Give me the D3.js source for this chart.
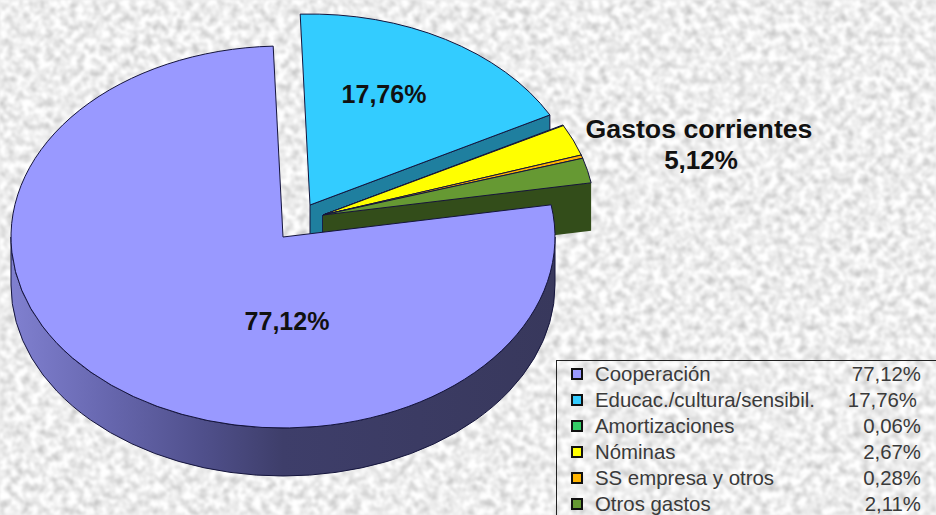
<!DOCTYPE html>
<html>
<head>
<meta charset="utf-8">
<script src="https://cdn.jsdelivr.net/npm/d3@7"></script>
<style>
html, body { margin: 0; padding: 0; background: #eeeeee; overflow: hidden; }
text { font-family: "Liberation Sans", Arial, sans-serif; }
</style>
</head>
<body>
<div id="canvas"></div>
<script>
"use strict"

let categories = ["Cooperación", "Educac./cultura/sensibil.", "Amortizaciones", "Nóminas", "SS empresa y otros", "Otros gastos"];
let values = [77.12, 17.76, 0.06, 2.67, 0.28, 2.11];
let valueLabels = ["77,12%", "17,76%", "0,06%", "2,67%", "0,28%", "2,11%"];
let topColors = ["#9999ff", "#33ccff", "#33cc66", "#ffff00", "#ffb400", "#669933"];
let wallColors = ["#4d4d80", "#1f7f9f", "#1f7a3d", "#999900", "#8a6200", "#334d1a"];

/* Configuration variables: drawing */
let svgWidth = 936;
let svgHeight = 515;
let rx = 272;
let ry = 191;
let depth = 48;
let startDeg = 80.3;

/* centre of each slice: the last ones are pulled out together */
let centres = [[283, 237], [310, 205], [323, 215], [323, 215], [323, 215], [323, 215]];

let svg = d3.select("#canvas")
    .append("svg")
    .attr("width", svgWidth)
    .attr("height", svgHeight)
    .style("display", "block");

let defs = svg.append("defs");

/* Granite like background */
let filter = defs.append("filter")
    .attr("id", "stone")
    .attr("color-interpolation-filters", "sRGB")
    .attr("x", 0).attr("y", 0).attr("width", "100%").attr("height", "100%");
filter.append("feTurbulence")
    .attr("type", "fractalNoise")
    .attr("baseFrequency", 0.13)
    .attr("numOctaves", 2)
    .attr("seed", 7);
filter.append("feColorMatrix")
    .attr("type", "matrix")
    .attr("values", "0.42 0 0 0 0.72  0.42 0 0 0 0.72  0.42 0 0 0 0.72  0 0 0 0 1");
filter.append("feGaussianBlur")
    .attr("stdDeviation", 0.8);

svg.append("rect")
    .attr("width", svgWidth)
    .attr("height", svgHeight)
    .attr("filter", "url(#stone)");

/* Shading of the big slice rim */
let rimGradient = defs.append("linearGradient")
    .attr("id", "rim")
    .attr("gradientUnits", "userSpaceOnUse")
    .attr("x1", 11).attr("x2", 555).attr("y1", 0).attr("y2", 0);
[[0, "#8080d0"], [0.17, "#6868b0"], [0.35, "#50508c"], [0.5, "#3e3e6a"], [1, "#38385c"]].forEach(function (s) {
    rimGradient.append("stop").attr("offset", s[0]).attr("stop-color", s[1]);
});

/* Angles come from d3.pie, clockwise from 12 o'clock */
let pie = d3.pie()
    .sort(null)
    .startAngle(startDeg * Math.PI / 180)
    .endAngle(startDeg * Math.PI / 180 + 2 * Math.PI);
let slices = pie(values);

let unitX = d3.scaleLinear().domain([-1, 1]).range([-rx, rx]);
let unitY = d3.scaleLinear().domain([-1, 1]).range([ry, -ry]);

function point(i, angle, drop) {
    return [
        centres[i][0] + unitX(Math.sin(angle)),
        centres[i][1] + unitY(Math.cos(angle)) + (drop || 0)
    ];
}

function ellipseTo(p, a0, a1) {
    let large = Math.abs(a1 - a0) > Math.PI ? 1 : 0;
    let sweep = a1 > a0 ? 1 : 0;
    return "A" + rx + "," + ry + " 0 " + large + " " + sweep + " " + p[0] + "," + p[1];
}

function topPath(i, d) {
    let c = centres[i];
    let p0 = point(i, d.startAngle);
    let p1 = point(i, d.endAngle);
    return "M" + c[0] + "," + c[1] + "L" + p0[0] + "," + p0[1]
        + ellipseTo(p1, d.startAngle, d.endAngle) + "Z";
}

/* side wall along the end radius of a slice */
function endWallPath(i, d) {
    let c = centres[i];
    let p = point(i, d.endAngle);
    return "M" + c[0] + "," + c[1] + "L" + p[0] + "," + p[1]
        + "L" + p[0] + "," + (p[1] + depth) + "L" + c[0] + "," + (c[1] + depth) + "Z";
}

/* outer rim, only the front half of the ellipse shows */
function rimPath(i, d) {
    let a0 = Math.max(d.startAngle, Math.PI / 2);
    let a1 = Math.min(d.endAngle, 3 * Math.PI / 2);
    let p0 = point(i, a0);
    let p1 = point(i, a1);
    let p2 = point(i, a1, depth);
    let p3 = point(i, a0, depth);
    return "M" + p0[0] + "," + p0[1] + ellipseTo(p1, a0, a1)
        + "L" + p2[0] + "," + p2[1] + ellipseTo(p3, a1, a0) + "Z";
}

let edge = "#14143c";

/* Back to front: blue slice, small group, then the big one */
let order = [1, 2, 3, 4, 5, 0];
order.forEach(function (i) {
    let d = slices[i];
    if (i === 0) {
        svg.append("path")
            .attr("d", rimPath(i, d))
            .attr("fill", "url(#rim)")
            .attr("stroke", edge)
            .attr("stroke-width", 1);
    } else {
        svg.append("path")
            .attr("d", endWallPath(i, d))
            .attr("fill", wallColors[i])
            .attr("stroke", i === 5 ? "none" : edge)
            .attr("stroke-width", 1);
    }
    svg.append("path")
        .attr("d", topPath(i, d))
        .attr("fill", topColors[i])
        .attr("stroke", edge)
        .attr("stroke-width", 1)
        .attr("stroke-linejoin", "round");
});

/* Slice labels */
let pieLabels = [
    {text: valueLabels[0], x: 287, y: 330, size: 25},
    {text: valueLabels[1], x: 384, y: 103, size: 25},
    {text: "Gastos corrientes", x: 699, y: 138, size: 26.7},
    {text: "5,12%", x: 701, y: 169, size: 26}
];
svg.selectAll(".pie-label")
    .data(pieLabels)
    .join("text")
    .attr("class", "pie-label")
    .attr("x", function (d) { return d.x; })
    .attr("y", function (d) { return d.y; })
    .attr("text-anchor", "middle")
    .attr("font-size", function (d) { return d.size; })
    .attr("font-weight", "bold")
    .attr("fill", "#111111")
    .text(function (d) { return d.text; });

/* Legend, its box runs off the picture */
svg.append("rect")
    .attr("x", 556.5)
    .attr("y", 360.5)
    .attr("width", 400)
    .attr("height", 200)
    .attr("fill", "none")
    .attr("stroke", "#222222")
    .attr("stroke-width", 1);

let rowY = d3.scalePoint()
    .domain(categories)
    .range([374, 504]);

let rows = svg.selectAll(".legend-row")
    .data(categories)
    .join("g")
    .attr("class", "legend-row")
    .attr("transform", function (d) { return "translate(0," + rowY(d) + ")"; });

rows.append("rect")
    .attr("x", 572)
    .attr("y", -5)
    .attr("width", 10)
    .attr("height", 10)
    .attr("fill", function (d, i) { return topColors[i]; })
    .attr("stroke", "#111111")
    .attr("stroke-width", 2);

rows.append("text")
    .attr("x", 595)
    .attr("y", 7)
    .attr("font-size", 20.4)
    .attr("fill", "#3a3a3a")
    .text(function (d) { return d; });

rows.append("text")
    .attr("x", function (d, i) { return i === 1 ? 917 : 921; })
    .attr("y", 7)
    .attr("text-anchor", "end")
    .attr("font-size", 20.4)
    .attr("fill", "#3a3a3a")
    .text(function (d, i) { return valueLabels[i]; });
</script>
</body>
</html>
